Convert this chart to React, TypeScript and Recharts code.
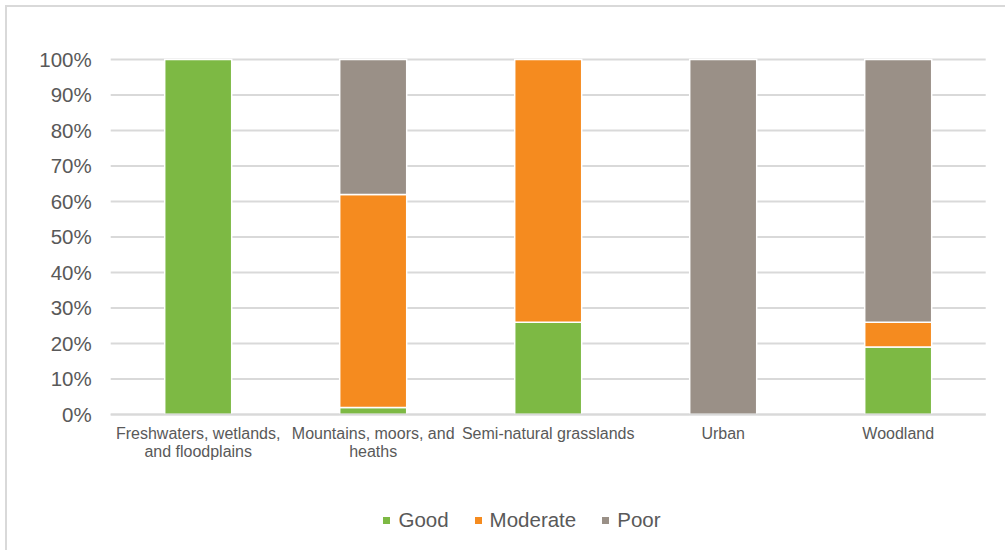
import { BarChart, Bar, XAxis, YAxis, CartesianGrid, Legend } from 'recharts';

const FONT = '"Liberation Sans", Arial, sans-serif';
const TEXT = '#595959';
const GRID = '#d9d9d9';

const categories = [
    'Freshwaters, wetlands, and floodplains',
    'Mountains, moors, and heaths',
    'Semi-natural grasslands',
    'Urban',
    'Woodland',
];

// wrapped axis labels, one entry per category
const categoryLines = [
    ['Freshwaters, wetlands,', 'and floodplains'],
    ['Mountains, moors, and', 'heaths'],
    ['Semi-natural grasslands'],
    ['Urban'],
    ['Woodland'],
];

const good = [100, 2, 26, 0, 19];
const moderate = [0, 60, 74, 0, 7];
const poor = [0, 38, 0, 100, 74];

const yTicks = [0, 10, 20, 30, 40, 50, 60, 70, 80, 90, 100];

const SERIES = [
    { key: 'Good', color: '#7db944' },
    { key: 'Moderate', color: '#f58b1f' },
    { key: 'Poor', color: '#9a9087' },
];

const data = categories.map((name, i) => ({
    name,
    Good: good[i],
    Moderate: moderate[i],
    Poor: poor[i],
}));

// eslint-disable-next-line @typescript-eslint/no-explicit-any
const CategoryTick = ({ x, y, payload }: any) => {
    const lines = categoryLines[categories.indexOf(payload.value)] ?? [payload.value];
    return (
        <text x={x} y={y} textAnchor="middle" fill={TEXT} fontSize={16} fontFamily={FONT}>
            {lines.map((line, i) => (
                <tspan key={i} x={x} dy={i === 0 ? 24.5 : 18}>
                    {line}
                </tspan>
            ))}
        </text>
    );
};

const LegendContent = () => (
    <div
        style={{
            display: 'flex',
            justifyContent: 'center',
            alignItems: 'center',
            paddingLeft: 39,
            height: 30,
            fontFamily: FONT,
            fontSize: 20.5,
            color: TEXT,
        }}
    >
        {SERIES.map((s, i) => (
            <div key={s.key} style={{ display: 'flex', alignItems: 'center', marginLeft: i ? 26 : 0 }}>
                <span style={{ width: 7, height: 7, background: s.color, marginRight: 8 }} />
                <span>{s.key}</span>
            </div>
        ))}
    </div>
);

export default function App() {
    return (
        <div style={{ position: 'fixed', left: 0, top: 0, width: 1005, height: 550, overflow: 'hidden', background: '#fff' }}>
            <div
                style={{
                    position: 'absolute',
                    left: 5,
                    top: 5,
                    width: 1100,
                    height: 600,
                    borderTop: `2px solid ${GRID}`,
                    borderLeft: `2px solid ${GRID}`,
                }}
            />
            <div style={{ position: 'absolute', left: 0, top: 0 }}>
                <BarChart
                    width={1005}
                    height={550}
                    data={data}
                    barSize={67}
                    margin={{ top: 59.5, right: 19.3, left: 0, bottom: 15 }}
                >
                    <CartesianGrid vertical={false} stroke={GRID} strokeWidth={2} />
                    <XAxis
                        dataKey="name"
                        interval={0}
                        height={90.5}
                        tickLine={false}
                        tickSize={0}
                        tickMargin={0}
                        axisLine={{ stroke: GRID, strokeWidth: 2 }}
                        tick={<CategoryTick />}
                    />
                    <YAxis
                        width={110.7}
                        domain={[0, 100]}
                        ticks={yTicks}
                        interval={0}
                        tickFormatter={(v) => `${v}%`}
                        axisLine={false}
                        tickLine={false}
                        tickSize={0}
                        tickMargin={19}
                        tick={{ fill: TEXT, fontSize: 20.5, fontFamily: FONT }}
                    />
                    <Legend
                        verticalAlign="bottom"
                        height={30}
                        content={<LegendContent />}
                        wrapperStyle={{ left: 0, width: 1005 }}
                    />
                    {SERIES.map((s) => (
                        <Bar
                            key={s.key}
                            dataKey={s.key}
                            stackId="status"
                            fill={s.color}
                            stroke="#ffffff"
                            strokeWidth={1.5}
                            isAnimationActive={false}
                        />
                    ))}
                </BarChart>
            </div>
        </div>
    );
}
